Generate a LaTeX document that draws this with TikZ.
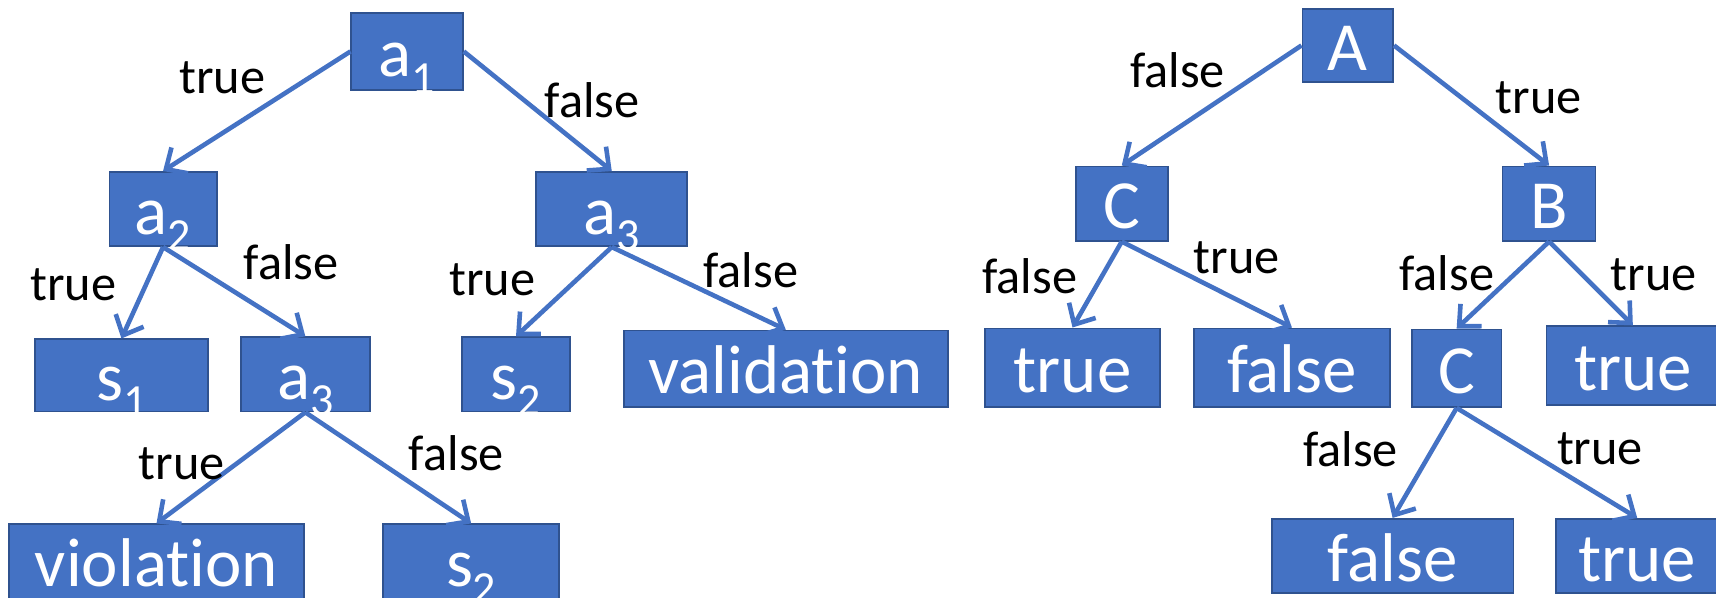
\documentclass[tikz,border=0pt]{standalone}
\usepackage{fontspec}
\setmainfont{Carlito}[Ligatures=NoCommon]
\usetikzlibrary{arrows.meta}
\definecolor{boxblue}{HTML}{4472C4}
\definecolor{boxedge}{HTML}{2F528F}
\newcommand{\mysub}[1]{\raisebox{-15pt}{\fontsize{42}{42}\selectfont #1}}
\begin{document}
\begin{tikzpicture}[x=1pt,y=-1pt,
  box/.style={draw=boxedge, fill=boxblue, text=white, line width=1.5pt, inner sep=0pt,
    font=\fontsize{63}{63}\selectfont, text height=50pt, text depth=4pt},
  lbl/.style={text=black, inner sep=0pt, font=\fontsize{46}{46}\selectfont, anchor=base},
  conn/.style={draw=boxblue, line width=4.2pt, -{Straight Barb[length=15pt,width=28pt]}}]
\useasboundingbox (0,0) rectangle (1568,546);
\clip (0,0) rectangle (1568,546);
% ---------- left tree ----------
\node[box, minimum width=102pt, minimum height=70pt] (a1) at (372,47) {a\mysub{1}};
\node[box, minimum width=98pt, minimum height=68pt] (a2) at (149,191) {a\mysub{2}};
\node[box, minimum width=138pt, minimum height=68pt] (a3r) at (559,191) {a\mysub{3}};
\node[box, minimum width=158pt, minimum height=66pt] (s1) at (111,343) {s\mysub{1}};
\node[box, minimum width=118pt, minimum height=68pt] (a3l) at (279,342) {a\mysub{3}};
\node[box, minimum width=99pt, minimum height=68pt] (s2m) at (471.5,342) {s\mysub{2}};
\node[box, minimum width=296pt, minimum height=70pt] (val) at (718,337) {validation};
\node[box, minimum width=270pt, minimum height=68pt] (vio) at (143,513) {violation};
\node[box, minimum width=161pt, minimum height=68pt] (s2b) at (430.5,513) {s\mysub{2}};
\draw[conn] (a1.west) -- (a2.north);
\draw[conn] (a1.east) -- (a3r.north);
\draw[conn] (a2.south) -- (s1.north);
\draw[conn] (a2.south) -- (a3l.north);
\draw[conn] (a3r.south) -- (s2m.north);
\draw[conn] (a3r.south) -- (val.north);
\draw[conn] (a3l.south) -- (vio.north);
\draw[conn] (a3l.south) -- (s2b.north);
\node[lbl] (t1) at (203,85) {true};
\node[lbl] (f1) at (541,107) {false};
\node[lbl] (t2) at (67,275) {true};
\node[lbl] (f2) at (266,255) {false};
\node[lbl] (t3) at (450,270) {true};
\node[lbl] (f3) at (686,263) {false};
\node[lbl] (t4) at (166,438) {true};
\node[lbl] (f4) at (417,430) {false};
% ---------- right tree ----------
\node[box, minimum width=83pt, minimum height=67pt] (A) at (1231.5,41.5) {A};
\node[box, minimum width=84pt, minimum height=68pt] (C1) at (1025,186) {C};
\node[box, minimum width=85pt, minimum height=68pt] (B) at (1415.5,186) {B};
\node[box, minimum width=160pt, minimum height=72pt] (tL) at (980,336) {true};
\node[box, minimum width=179pt, minimum height=72pt] (fL) at (1180.5,336) {false};
\node[box, minimum width=82pt, minimum height=71pt] (C2) at (1331,336.5) {C};
\node[box, minimum width=158pt, minimum height=72pt] (tR) at (1492,334) {true};
\node[box, minimum width=221pt, minimum height=68pt] (fB) at (1272.5,508) {false};
\node[box, minimum width=148pt, minimum height=68pt] (tB) at (1496,508) {true};
\draw[conn] (A.west) -- (C1.north);
\draw[conn] (A.east) -- (B.north);
\draw[conn] (C1.south) -- (tL.north);
\draw[conn] (C1.south) -- (fL.north);
\draw[conn] (B.south) -- (C2.north);
\draw[conn] (B.south) -- (tR.north);
\draw[conn] (C2.south) -- (fB.north);
\draw[conn] (C2.south) -- (tB.north);
\node[lbl] (f5) at (1076,80) {false};
\node[lbl] (t5) at (1406,104) {true};
\node[lbl] (f6) at (941,268) {false};
\node[lbl] (t6) at (1130,250) {true};
\node[lbl] (f7) at (1322,265) {false};
\node[lbl] (t7) at (1511,265) {true};
\node[lbl] (f8) at (1234,426) {false};
\node[lbl] (t8) at (1462,424) {true};
\end{tikzpicture}
\end{document}
